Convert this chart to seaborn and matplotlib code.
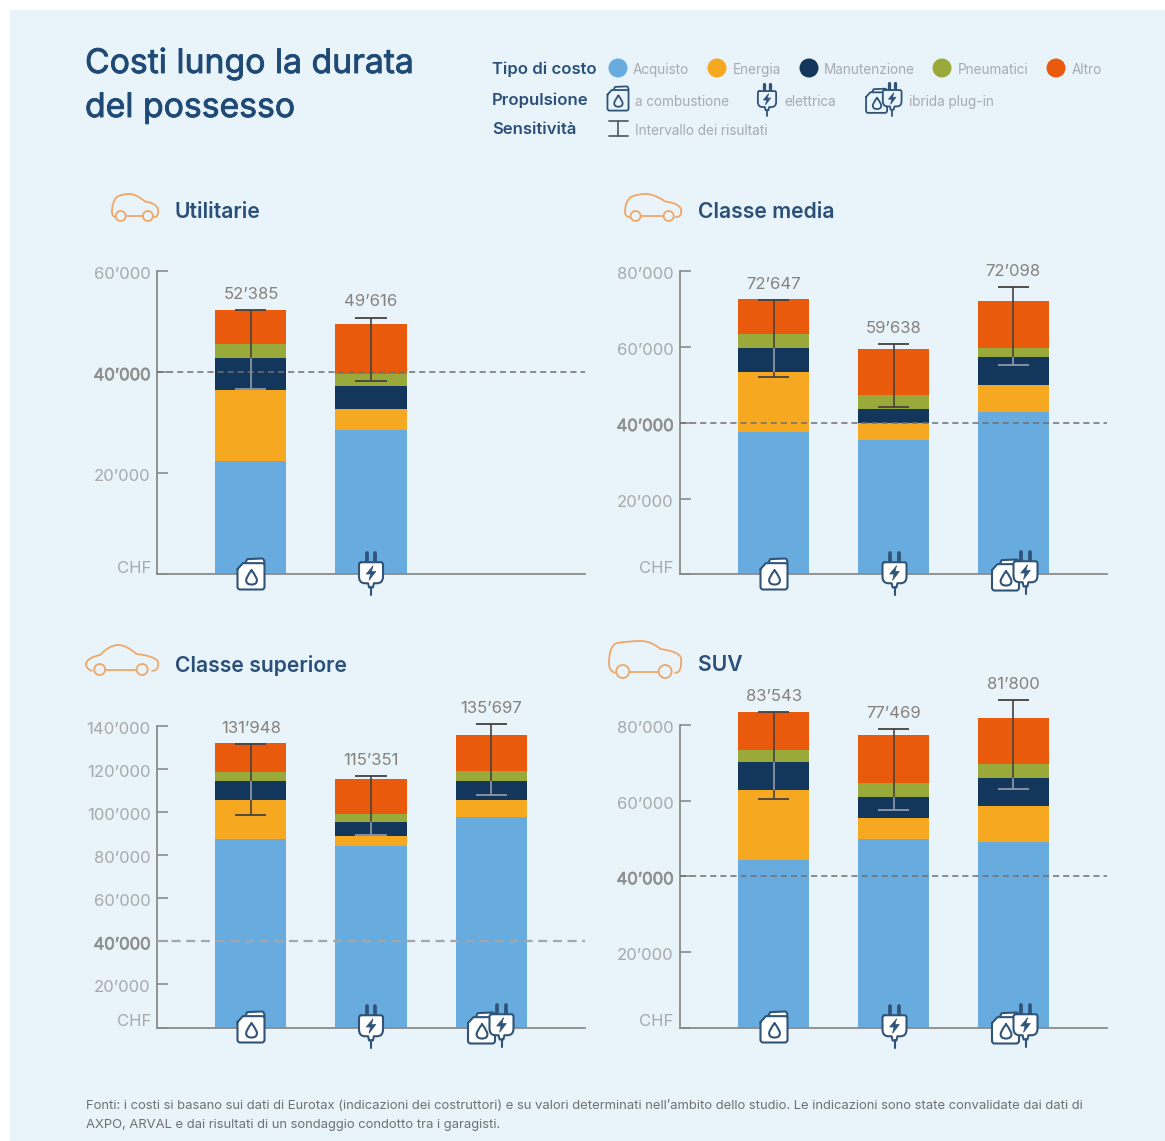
import numpy as np
import pandas as pd
import matplotlib
matplotlib.use('Agg')
import matplotlib.pyplot as plt
import matplotlib.patheffects as pe
from matplotlib.path import Path
from matplotlib.patches import PathPatch, Circle, Rectangle
from matplotlib.transforms import ScaledTranslation
import seaborn as sns

# Data (CHF)
propulsione = ['a combustione', 'elettrica', 'ibrida plug-in']
tipi = ['Acquisto', 'Energia', 'Manutenzione', 'Pneumatici', 'Altro']

utilitarie_acquisto = [22500, 28650]
utilitarie_energia = [14060, 4150]
utilitarie_manut = [6190, 4500]
utilitarie_pneum = [2750, 2400]
utilitarie_altro = [6885, 9916]
utilitarie_low = [36760, 38300]
utilitarie_high = [52200, 50800]

media_acquisto = [37750, 35560, 42850]
media_energia = [15650, 4390, 7250]
media_manut = [6400, 3750, 7300]
media_pneum = [3700, 3700, 2300]
media_altro = [9147, 12238, 12398]
media_low = [52100, 44100, 55300]
media_high = [72350, 60850, 75950]

superiore_acquisto = [87300, 84200, 97700]
superiore_energia = [18300, 4600, 7900]
superiore_manut = [9000, 6500, 9000]
superiore_pneum = [4000, 4000, 4700]
superiore_altro = [13348, 16051, 16397]
superiore_low = [98700, 89400, 107900]
superiore_high = [131800, 116700, 140900]

suv_acquisto = [44400, 49900, 49000]
suv_energia = [18300, 5400, 9600]
suv_manut = [7400, 5600, 7400]
suv_pneum = [3200, 3700, 3600]
suv_altro = [10243, 12869, 12200]
suv_low = [60400, 57500, 63000]
suv_high = [83500, 79000, 86500]

ticks_60 = ['CHF', '20’000', '40’000', '60’000']
ticks_80 = ['CHF', '20’000', '40’000', '60’000', '80’000']
ticks_140 = ['CHF', '20’000', '40’000', '60’000', '80’000', '100’000', '120’000', '140’000']

W, H = 1165, 1141
BG = '#e8f3fa'
NAVY = '#2a4f78'
ICON = '#2f5478'
AXIS = '#8b8b8b'
TICK = '#a7a9ab'
VALUE = '#85827e'
LEG = '#a6abb0'
CAR = '#efa768'
colori = ['#68abdf', '#f6a821', '#12365c', '#9aaa3a', '#ea5a0c']
WHISK = '#45423f'
WHISK_NAVY = '#8d99a8'

sns.set_theme(style='ticks')
plt.rcParams['font.family'] = ['Inter', 'DejaVu Sans']

fig = plt.figure(figsize=(W / 100, H / 100), dpi=100, facecolor='white')
fig.add_artist(Rectangle((10 / W, 0), 1 - 10 / W, 1 - 10 / H, transform=fig.transFigure,
                         facecolor=BG, edgecolor='none', zorder=-1))


def make_axes(x0, x1, ytop, ybot):
    return fig.add_axes([x0 / W, 1 - ybot / H, (x1 - x0) / W, (ybot - ytop) / H], facecolor='none')


def draw_panel(ax, parts, low, high, ymax, ticklabels, dash_col, dash_lw):
    n = len(parts[0])
    cum = np.cumsum(np.array(parts), axis=0)
    # stacked bars: biggest cumulative first, smaller ones on top
    for k in range(4, -1, -1):
        df = pd.DataFrame({'propulsione': propulsione[:n], 'valore': cum[k]})
        sns.barplot(data=df, x='propulsione', y='valore', order=propulsione, color=colori[k],
                    saturation=1, width=71 / 120, linewidth=0, ax=ax)
    for p in ax.patches:
        p.set_clip_on(False)
    ax.set_xlim(-0.783, 2.783)
    ax.set_ylim(0, ymax)
    ax.set_xlabel('')
    ax.set_ylabel('')
    ax.set_xticks([])
    ax.set_yticks(np.arange(len(ticklabels)) * 20000)
    ax.set_yticklabels(ticklabels)
    ax.tick_params(axis='y', direction='in', length=8, width=1.2, color=AXIS, pad=4.5,
                   labelsize=12, labelcolor=TICK)
    down = ScaledTranslation(0, -2 / 100, fig.dpi_scale_trans)
    for lab, txt in zip(ax.get_yticklabels(), ticklabels):
        lab.set_transform(lab.get_transform() + down)
        if txt == 'CHF':
            lab.set_verticalalignment('bottom')
        if txt == '40’000':
            lab.set_color('#8f8f8f')
            lab.set_path_effects([pe.withStroke(linewidth=0.5, foreground='#8f8f8f')])
    sns.despine(ax=ax)
    for s in ['left', 'bottom']:
        ax.spines[s].set_color(AXIS)
        ax.spines[s].set_linewidth(1.3)
    ax.axhline(40000, color=dash_col, lw=dash_lw, ls=(0, (4, 2.6)), zorder=5)

    cap = 15.5 / 120
    for i in range(n):
        ax.vlines(i, low[i], high[i], color=WHISK, lw=1.2, zorder=6, clip_on=False)
        # the whisker shows light where it crosses the navy segment
        b, t = cum[1][i], cum[2][i]
        if min(high[i], t) > max(low[i], b):
            ax.vlines(i, max(low[i], b), min(high[i], t), color=WHISK_NAVY, lw=1.2, zorder=7, clip_on=False)
        for v in (low[i], high[i]):
            c = WHISK_NAVY if b <= v <= t else WHISK
            ax.hlines(v, i - cap, i + cap, color=c, lw=1.3, zorder=7, clip_on=False)
        total = f'{int(cum[4][i]):,}'.replace(',', '’')
        ax.annotate(total, xy=(i, high[i]), xytext=(0, 11.2), textcoords='offset points',
                    ha='center', va='center', fontsize=12, color=VALUE, zorder=8, annotation_clip=False)


ax1 = make_axes(157, 585, 271, 574.5)
draw_panel(ax1, [utilitarie_acquisto, utilitarie_energia, utilitarie_manut, utilitarie_pneum, utilitarie_altro],
           utilitarie_low, utilitarie_high, 60000, ticks_60, '#6f6f6f', 1.1)
ax2 = make_axes(680, 1107, 271.5, 574.5)
draw_panel(ax2, [media_acquisto, media_energia, media_manut, media_pneum, media_altro],
           media_low, media_high, 80000, ticks_80, '#6f6f6f', 1.1)
ax3 = make_axes(157, 585, 726, 1027.5)
draw_panel(ax3, [superiore_acquisto, superiore_energia, superiore_manut, superiore_pneum, superiore_altro],
           superiore_low, superiore_high, 140000, ticks_140, '#a3a7aa', 1.6)
ax4 = make_axes(680, 1107, 725, 1027.5)
draw_panel(ax4, [suv_acquisto, suv_energia, suv_manut, suv_pneum, suv_altro],
           suv_low, suv_high, 80000, ticks_80, '#6f6f6f', 1.1)

# overlay in pixel coordinates for the texts and icons
ov = fig.add_axes([0, 0, 1, 1], facecolor='none', zorder=20)
ov.set_xlim(0, W)
ov.set_ylim(H, 0)
ov.axis('off')
M, L, C = Path.MOVETO, Path.LINETO, Path.CURVE3


def draw_path(points, codes, x0, y0, w, h, face='none', edge=ICON, lw=1.2):
    verts = [(x0 + px * w, y0 + py * h) for px, py in points]
    ov.add_patch(PathPatch(Path(verts, codes), facecolor=face, edgecolor=edge, lw=lw,
                           joinstyle='round', capstyle='round', zorder=3))


def can_icon(cx, cy, s=1.0, face='white', lw=1.5):
    w, h = 27 * s, 31 * s
    x0, y0 = cx - w / 2, cy - h / 2
    # handle first, body over it
    draw_path([(0.28, 0.16), (0.36, 0.02), (0.9, 0.0), (1.0, 0.0), (1.0, 0.16)], [M, L, L, C, C], x0, y0, w, h,
              face=face, lw=lw)
    pts = [(0.0, 0.34), (0.2, 0.15), (0.92, 0.15), (1.0, 0.15), (1.0, 0.22), (1.0, 0.91), (1.0, 1.0),
           (0.9, 1.0), (0.1, 1.0), (0.0, 1.0), (0.0, 0.91), (0.0, 0.34)]
    cod = [M, L, L, C, C, L, C, C, L, C, C, L]
    draw_path(pts, cod, x0, y0, w, h, face=face, lw=lw)
    # drop
    pts = [(0.52, 0.38), (0.32, 0.6), (0.32, 0.7), (0.32, 0.84), (0.52, 0.84), (0.72, 0.84), (0.72, 0.7),
           (0.72, 0.6), (0.52, 0.38)]
    draw_path(pts, [M, C, C, C, C, C, C, C, C], x0, y0, w, h, lw=lw)


def plug_icon(cx, cy, s=1.0, face='white', lw=1.5):
    w, h = 24 * s, 42 * s
    x0, y0 = cx - w / 2, cy - h / 2
    for px in (0.33, 0.67):
        draw_path([(px, 0.0), (px, 0.22)], [M, L], x0, y0, w, h, lw=lw * 1.8)
    pts = [(0.08, 0.22), (0.92, 0.22), (1.0, 0.22), (1.0, 0.28), (1.0, 0.56), (1.0, 0.72), (0.75, 0.72),
           (0.62, 0.72), (0.58, 0.82), (0.42, 0.82), (0.38, 0.72), (0.25, 0.72), (0.0, 0.72), (0.0, 0.56),
           (0.0, 0.28), (0.0, 0.22), (0.08, 0.22)]
    cod = [M, L, C, C, L, C, C, L, L, L, L, L, C, C, L, C, C]
    draw_path(pts, cod, x0, y0, w, h, face=face, lw=lw)
    draw_path([(0.5, 0.82), (0.5, 1.0)], [M, L], x0, y0, w, h, lw=lw)
    # bolt
    pts = [(0.58, 0.31), (0.3, 0.5), (0.48, 0.5), (0.42, 0.65), (0.7, 0.44), (0.52, 0.44), (0.58, 0.31)]
    draw_path(pts, [M, L, L, L, L, L, L], x0, y0, w, h, face=ICON, lw=0.5)


def hybrid_icon(cx, cy, s=1.0, face='white', lw=1.5):
    can_icon(cx - 9.5 * s, cy + 1 * s, s, face, lw)
    plug_icon(cx + 10.5 * s, cy - 1 * s, s, face, lw)


# start point, then control and end pairs
car_hatch = [(0.09, 0.86), (0.0, 0.86), (0.0, 0.65), (0.0, 0.3), (0.1, 0.12), (0.2, 0.0), (0.38, 0.0),
             (0.52, 0.0), (0.72, 0.28), (0.95, 0.33), (1.0, 0.55), (1.03, 0.86), (0.9, 0.86)]
car_sedan = [(0.08, 0.86), (0.0, 0.8), (0.0, 0.62), (0.02, 0.42), (0.2, 0.33), (0.32, 0.0), (0.45, 0.0),
             (0.56, 0.0), (0.7, 0.3), (0.95, 0.36), (1.0, 0.55), (1.02, 0.86), (0.92, 0.86)]
car_suv = [(0.08, 0.86), (0.0, 0.8), (0.0, 0.6), (0.0, 0.15), (0.1, 0.06), (0.25, 0.0), (0.45, 0.0),
           (0.58, 0.0), (0.72, 0.22), (0.97, 0.28), (1.0, 0.45), (1.02, 0.86), (0.92, 0.86)]


def car_icon(x0, x1, y0, y1, pts, r, lw=1.3):
    w, h = x1 - x0, y1 - y0
    draw_path(pts, [M] + [C] * (len(pts) - 1), x0, y0, w, h, edge=CAR, lw=lw)
    lx, rx = x0 + 0.19 * w, x0 + 0.78 * w
    wy = y1 - r
    draw_path([(lx + r, wy), (rx - r, wy)], [M, L], 0, 0, 1, 1, edge=CAR, lw=lw)
    for cx in (lx, rx):
        ov.add_patch(Circle((cx, wy), r, facecolor=BG, edgecolor=CAR, lw=lw, zorder=4))


# icons under the bars
icon_funcs = {'c': can_icon, 'p': plug_icon, 'h': hybrid_icon}
for cx, kind in [(251, 'c'), (371, 'p'), (774, 'c'), (894.5, 'p'), (1015, 'h')]:
    icon_funcs[kind](cx, 574)
for cx, kind in [(251, 'c'), (371, 'p'), (491, 'h'), (774, 'c'), (894.5, 'p'), (1015, 'h')]:
    icon_funcs[kind](cx, 1027)

car_icon(112, 158, 194, 221, car_hatch, 5)
car_icon(625, 681, 194, 221, car_hatch, 5)
car_icon(86, 158, 645, 675, car_sedan, 5.5)
car_icon(609, 681, 641, 678, car_suv, 6.5)

for x, y, txt in [(175, 212, 'Utilitarie'), (698, 212, 'Classe media'),
                  (175, 665, 'Classe superiore'), (698, 665, 'SUV')]:
    ov.text(x, y, txt, fontsize=15.2, fontweight='semibold', color=NAVY, va='center', ha='left')

# title
title_fx = [pe.withStroke(linewidth=0.6, foreground='#1f4a75')]
ov.text(85, 64, 'Costi lungo la durata', fontsize=24.3, color='#1f4a75', va='center', path_effects=title_fx)
ov.text(85, 108, 'del possesso', fontsize=24.3, color='#1f4a75', va='center', path_effects=title_fx)

# legend
for y, txt in [(69, 'Tipo di costo'), (100, 'Propulsione'), (130, 'Sensitività')]:
    ov.text(492, y, txt, fontsize=12, fontweight='semibold', color=NAVY, va='center')
for cx, tx, col, txt in zip([618, 717, 809, 942, 1056], [633, 733, 824, 958, 1072], colori, tipi):
    ov.add_patch(Circle((cx, 68), 9.5, facecolor=col, edgecolor='none'))
    ov.text(tx, 70, txt, fontsize=9.75, color=LEG, va='center')
can_icon(618, 98.5, 0.78, BG, 1.3)
ov.text(635, 102, 'a combustione', fontsize=9.75, color=LEG, va='center')
plug_icon(767, 100, 0.76, BG, 1.3)
ov.text(784, 102, 'elettrica', fontsize=9.75, color=LEG, va='center')
hybrid_icon(884, 100, 0.78, BG, 1.3)
ov.text(909, 102, 'ibrida plug-in', fontsize=9.75, color=LEG, va='center')
ov.plot([618, 618], [121, 136], color='#55606b', lw=1.3)
ov.plot([609, 628], [121, 121], color='#55606b', lw=1.3)
ov.plot([609, 628], [136, 136], color='#55606b', lw=1.3)
ov.text(635, 131, 'Intervallo dei risultati', fontsize=9.75, color=LEG, va='center')

# footnote
ov.text(86, 1106, 'Fonti: i costi si basano sui dati di Eurotax (indicazioni dei costruttori) e su valori determinati '
        'nell’ambito dello studio. Le indicazioni sono state convalidate dai dati di',
        fontsize=9.38, color='#6f7072', va='center')
ov.text(86, 1125, 'AXPO, ARVAL e dai risultati di un sondaggio condotto tra i garagisti.',
        fontsize=9.38, color='#6f7072', va='center')

fig.savefig('out.png', dpi=100, facecolor='white')
